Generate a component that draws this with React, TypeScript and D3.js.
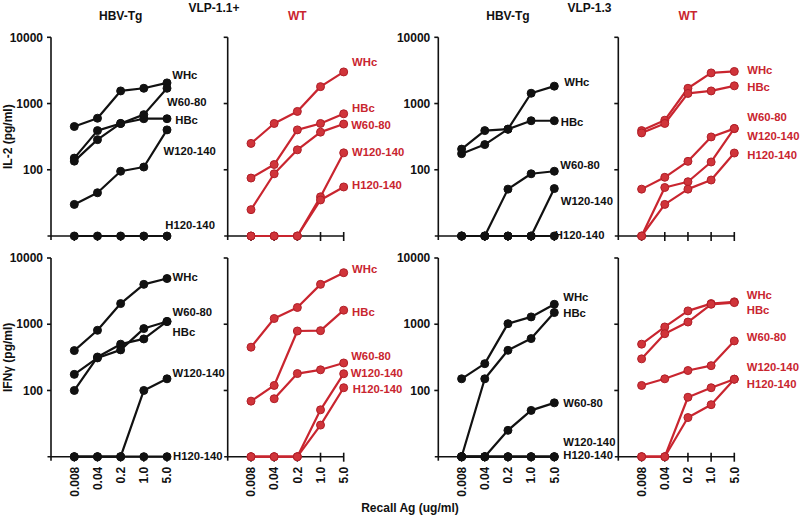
import React from "react";
import * as d3 from "d3";

// ---- data ----
const doses = ["0.008", "0.04", "0.2", "1.0", "5.0"];
const peptides = ["WHc", "HBc", "W60-80", "W120-140", "H120-140"];
const yTicks = [100, 1000, 10000];

// IL-2, VLP-1.1+, HBV-Tg  (rows follow `peptides`; 0 = not detected)
const il2Vlp11Tg: (number | null)[][] = [
  [450, 600, 1550, 1700, 2050],
  [150, 390, 500, 590, 590],
  [135, 285, 500, 680, 1700],
  [30, 45, 95, 110, 400],
  [0, 0, 0, 0, 0],
];
const il2Vlp11Wt: (number | null)[][] = [
  [250, 500, 760, 1800, 3000],
  [75, 120, 400, 500, 700],
  [25, 87, 200, 370, 490],
  [0, 0, 0, 39, 180],
  [0, 0, 0, 35, 55],
];
const il2Vlp13Tg: (number | null)[][] = [
  [175, 240, 410, 1430, 1830],
  [205, 390, 410, 550, 550],
  [0, 0, 51, 87, 95],
  [0, 0, 0, 0, 52],
  [0, 0, 0, 0, 0],
];
const il2Vlp13Wt: (number | null)[][] = [
  [390, 560, 1700, 2900, 3050],
  [360, 500, 1420, 1550, 1850],
  [51, 77, 134, 313, 418],
  [0, 54, 66, 131, 420],
  [0, 30, 51, 70, 179],
];
const ifnVlp11Tg: (number | null)[][] = [
  [400, 810, 2050, 4000, 4900],
  [100, 320, 500, 600, 1100],
  [175, 310, 410, 860, 1100],
  [0, 0, 0, 100, 150],
  [0, 0, 0, 0, 0],
];
const ifnVlp11Wt: (number | null)[][] = [
  [450, 1220, 1790, 4000, 6000],
  [69, 119, 790, 800, 1630],
  [null, 75, 180, 205, 260],
  [0, 0, 0, 51, 179],
  [0, 0, 0, 30, 110],
];
const ifnVlp13Tg: (number | null)[][] = [
  [150, 254, 1020, 1290, 2000],
  [0, 150, 404, 607, 1500],
  [0, 0, 25, 50, 65],
  [0, 0, 0, 0, 0],
  [0, 0, 0, 0, 0],
];
const ifnVlp13Wt: (number | null)[][] = [
  [500, 910, 1590, 2050, 2180],
  [300, 720, 1080, 2000, 2120],
  [119, 150, 200, 237, 560],
  [0, 0, 79, 110, 148],
  [0, 0, 39, 61, 148],
];

// ---- layout (positions / styles) ----
const BLACK = "#111111";
const RED = "#c9252f";
const FONT = "'Liberation Sans', Arial, sans-serif";
const LABEL_SIZE = 11.3;
const rowTops = [37.3, 258];
const rowH = 198.7;
const axisXs = [51, 227.7, 438.3, 618.3];
const rowTitles = ["IL-2 (pg/ml)", "IFNγ (pg/ml)"];

const panels = [
  { row: 0, col: 0, color: BLACK, data: il2Vlp11Tg, labelY: [37.7, 82.7, 64.4, 113.4, 187.7], labelDx: [5.3, 8.3, 0, -3.4, -1.7] },
  { row: 0, col: 1, color: RED, data: il2Vlp11Wt, labelY: [24.4, 71, 87.7, 114.4, 147.7], labelDx: [8.4, 8.4, 7.5, 8.4, 8.4] },
  { row: 0, col: 2, color: BLACK, data: il2Vlp13Tg, labelY: [44.7, 84.7, 127.7, 163.7, 197.7], labelDx: [10, 6.5, 6, 6.5, 0.5] },
  { row: 0, col: 3, color: RED, data: il2Vlp13Wt, labelY: [32.7, 49.4, 80, 98.7, 117.7], labelDx: [13, 13, 13, 13, 13] },
  { row: 1, col: 0, color: BLACK, data: ifnVlp11Tg, labelY: [18.7, 73.7, 53.7, 114.7, 198], labelDx: [5.6, 5.6, 5.6, 5.6, 6] },
  { row: 1, col: 1, color: RED, data: ifnVlp11Wt, labelY: [11, 53.7, 98, 115.3, 131.3], labelDx: [8.4, 8.4, 7.5, 7, 9] },
  { row: 1, col: 2, color: BLACK, data: ifnVlp13Tg, labelY: [38.7, 55.3, 144.7, 184, 197.5], labelDx: [9, 9, 9, 9, 9] },
  { row: 1, col: 3, color: RED, data: ifnVlp13Wt, labelY: [37, 52, 78.7, 108.7, 126], labelDx: [12.5, 12.5, 12.5, 12.5, 12.5] },
];

const headers = [
  { col: 0, text: "HBV-Tg", color: BLACK },
  { col: 1, text: "WT", color: RED },
  { col: 2, text: "HBV-Tg", color: BLACK },
  { col: 3, text: "WT", color: RED },
];
const groupTitles = [
  { text: "VLP-1.1+", x: 214 },
  { text: "VLP-1.3", x: 589.5 },
];

function xScaleFor(col: number) {
  const a = axisXs[col];
  return d3.scalePoint<string>().domain(doses).range([a + 23.3, a + 116]);
}
function yScaleFor(row: number) {
  const t = rowTops[row];
  return d3.scaleLog().domain([10, 10000]).range([t + rowH, t]);
}

function Panel({ p }: { p: (typeof panels)[number] }) {
  const x = xScaleFor(p.col);
  const y = yScaleFor(p.row);
  const ax = axisXs[p.col];
  const base = y(10);
  const top = y(10000);
  const val = (v: number) => (v <= 0 ? 10 : v);
  const line = d3
    .line<number | null>()
    .defined((d) => d !== null)
    .x((_, i) => x(doses[i]) as number)
    .y((d) => y(val(d as number)));
  const showYLabels = p.col === 0 || p.col === 2;
  const fill = p.color === RED ? "#d0343a" : BLACK;
  const stroke = p.color === RED ? "#b01f28" : BLACK;
  const lastX = x(doses[doses.length - 1]) as number;
  return (
    <g>
      {/* y axis */}
      <line x1={ax} x2={ax} y1={top} y2={base + 4} stroke={BLACK} strokeWidth={1.6} />
      {yTicks.map((t) => (
        <g key={t}>
          <line x1={ax - 4} x2={ax} y1={y(t)} y2={y(t)} stroke={BLACK} strokeWidth={1.6} />
          {showYLabels && (
            <text x={ax - 8} y={y(t)} dy="0.35em" textAnchor="end" fontSize={12} fontWeight="bold" fill={BLACK}>
              {t}
            </text>
          )}
        </g>
      ))}
      {/* x axis */}
      <line x1={ax - 3.5} x2={lastX} y1={base} y2={base} stroke={BLACK} strokeWidth={1.6} />
      {doses.map((d) => (
        <g key={d}>
          <line x1={x(d)} x2={x(d)} y1={base - 4} y2={base + 5} stroke={BLACK} strokeWidth={1.6} />
          {p.row === 1 && (
            <text
              transform={`translate(${x(d)},${base + 10}) rotate(-90)`}
              dy="0.35em"
              textAnchor="end"
              fontSize={12}
              fontWeight="bold"
              fill={BLACK}
            >
              {d}
            </text>
          )}
        </g>
      ))}
      {/* series */}
      {p.data.map((s, si) => (
        <g key={si}>
          <path d={line(s) || ""} fill="none" stroke={p.color} strokeWidth={2.2} strokeLinejoin="round" />
          {s.map((v, i) =>
            v === null ? null : (
              <circle key={i} cx={x(doses[i])} cy={y(val(v))} r={4} fill={fill} stroke={stroke} strokeWidth={1} />
            )
          )}
        </g>
      ))}
      {/* series labels */}
      {peptides.map((name, si) => (
        <text
          key={name}
          x={lastX + p.labelDx[si]}
          y={rowTops[p.row] + p.labelY[si]}
          dy="0.35em"
          fontSize={LABEL_SIZE}
          fontWeight="bold"
          fill={p.color}
        >
          {name}
        </text>
      ))}
    </g>
  );
}

export default function App() {
  return (
    <svg
      width={800}
      height={519}
      style={{ position: "absolute", left: 0, top: 0, background: "#fff" }}
      fontFamily={FONT}
    >
      <rect width={800} height={519} fill="#fff" />
      {headers.map((h, i) => {
        const x = xScaleFor(h.col);
        const cx = ((x(doses[0]) as number) + (x(doses[doses.length - 1]) as number)) / 2;
        return (
          <text key={i} x={cx} y={20} textAnchor="middle" fontSize={12} fontWeight="bold" fill={h.color}>
            {h.text}
          </text>
        );
      })}
      {groupTitles.map((g) => (
        <text key={g.text} x={g.x} y={11.5} textAnchor="middle" fontSize={12} fontWeight="bold" fill={BLACK}>
          {g.text}
        </text>
      ))}
      {rowTitles.map((t, r) => (
        <text
          key={t}
          transform={`translate(8,${rowTops[r] + rowH / 2}) rotate(-90)`}
          dy="0.35em"
          textAnchor="middle"
          fontSize={12}
          fontWeight="bold"
          fill={BLACK}
        >
          {t}
        </text>
      ))}
      {panels.map((p, i) => (
        <Panel key={i} p={p} />
      ))}
      <text x={410} y={512} textAnchor="middle" fontSize={12} fontWeight="bold" fill={BLACK}>
        Recall Ag (ug/ml)
      </text>
    </svg>
  );
}
